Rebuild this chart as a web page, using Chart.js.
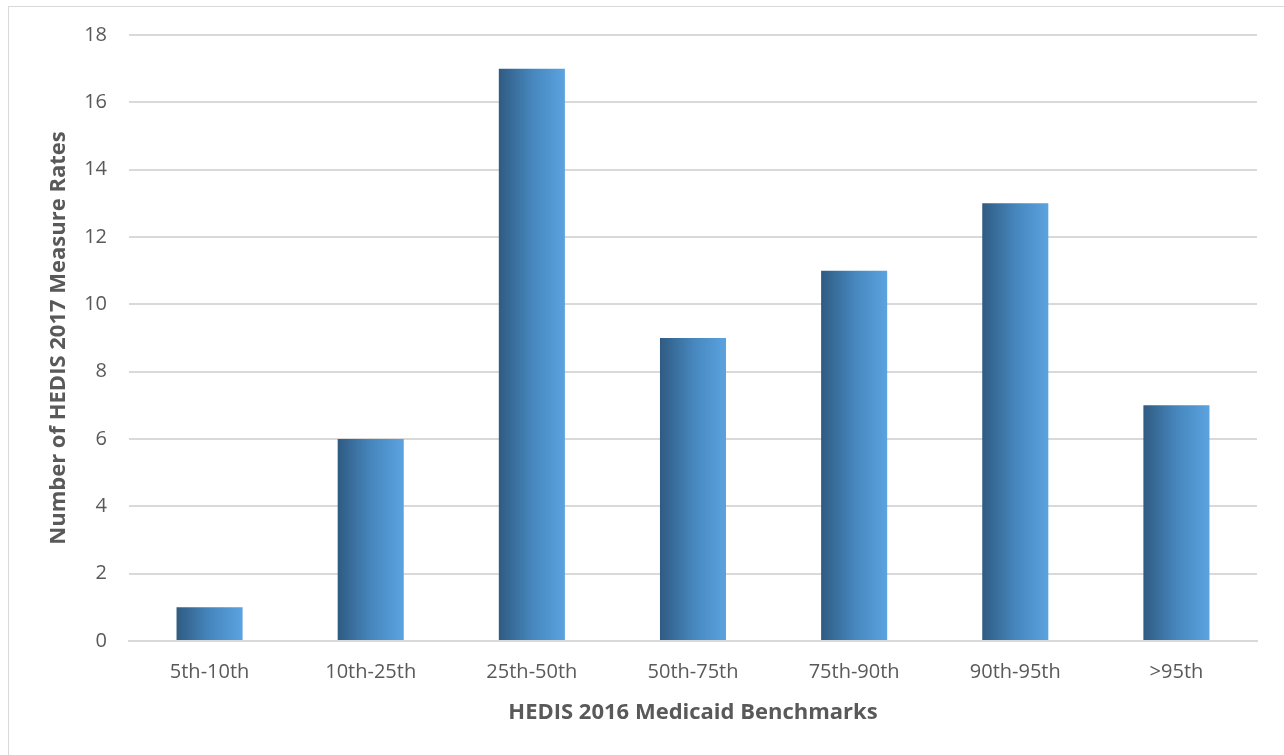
<!DOCTYPE html>
<html>
<head>
<meta charset="utf-8">
<script src="https://cdn.jsdelivr.net/npm/chart.js@4"></script>
<style>
  body { margin: 0; background: #fff; overflow: hidden; }
  #frame { position: absolute; left: 8px; top: 6px; width: 1300px; height: 780px; border: 1px solid #d9d9d9; }
  #wrap { position: absolute; left: 0; top: 0; width: 1284px; height: 755px; }
</style>
</head>
<body>
<div id="frame"></div>
<div id="wrap"><canvas id="chart" width="1284" height="755"></canvas></div>
<script>
const categories = ["5th-10th", "10th-25th", "25th-50th", "50th-75th", "75th-90th", "90th-95th", ">95th"];
const counts = [1, 6, 17, 9, 11, 13, 7];
const yTicks = [0, 2, 4, 6, 8, 10, 12, 14, 16, 18];

const barPct = 0.41;

// horizontal gradient per bar, dark on the left
function barGradient(context) {
  const chart = context.chart;
  const x = chart.scales.x;
  if (!x || !chart.chartArea) return "#4a8ccc";
  const center = x.getPixelForValue(context.dataIndex);
  const half = (x.width / categories.length) * barPct / 2;
  const g = chart.ctx.createLinearGradient(center - half, 0, center + half, 0);
  g.addColorStop(0, "#2f5b82");
  g.addColorStop(0.5, "#4686bd");
  g.addColorStop(1, "#5ba3e0");
  return g;
}

new Chart(document.getElementById("chart"), {
  type: "bar",
  data: {
    labels: categories,
    datasets: [{
      data: counts,
      backgroundColor: barGradient,
      borderWidth: 0,
      barPercentage: barPct,
      categoryPercentage: 1
    }]
  },
  options: {
    responsive: false,
    animation: false,
    layout: { padding: { left: 0, right: 27, top: 35, bottom: 0 } },
    plugins: { legend: { display: false }, tooltip: { enabled: false } },
    scales: {
      x: {
        grid: { display: false, drawTicks: false },
        border: { color: "#d9d9d9", width: 2 },
        ticks: { color: "#595959", padding: 19, font: { family: "Open Sans", size: 20 } },
        title: {
          display: true,
          text: "HEDIS 2016 Medicaid Benchmarks",
          color: "#595959",
          font: { family: "Open Sans", size: 22, weight: "bold" },
          padding: { top: 0, bottom: 29 }
        },
        afterFit: s => { s.height = 114; }
      },
      y: {
        min: 0,
        max: 18,
        afterBuildTicks: s => { s.ticks = yTicks.map(v => ({ value: v })); },
        grid: { color: "#d9d9d9", lineWidth: 2, drawTicks: false },
        border: { display: false },
        ticks: { color: "#595959", padding: 22, font: { family: "Open Sans", size: 20 } },
        title: {
          display: true,
          text: "Number of HEDIS 2017 Measure Rates",
          color: "#595959",
          font: { family: "Open Sans", size: 22, weight: "bold" },
          padding: { top: 46, bottom: 0 }
        },
        afterFit: s => { s.width = 129; }
      }
    }
  }
});
</script>
</body>
</html>
